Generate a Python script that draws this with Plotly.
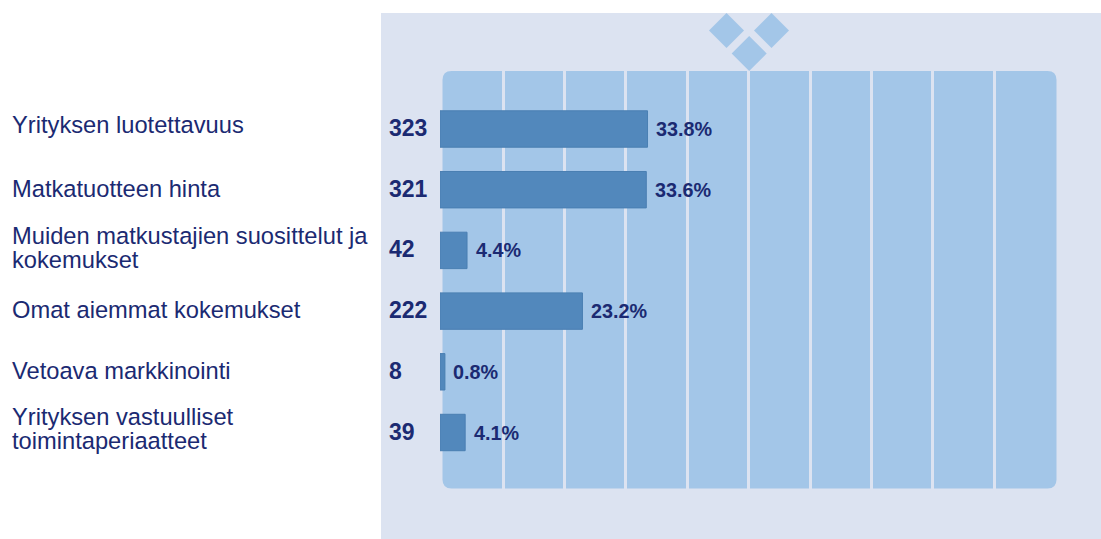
import plotly.graph_objects as go

W, H = 1101, 539

categories = [
    ["Yrityksen luotettavuus"],
    ["Matkatuotteen hinta"],
    ["Muiden matkustajien suosittelut ja", "kokemukset"],
    ["Omat aiemmat kokemukset"],
    ["Vetoava markkinointi"],
    ["Yrityksen vastuulliset", "toimintaperiaatteet"],
]
counts = [323, 321, 42, 222, 8, 39]
percents = [33.8, 33.6, 4.4, 23.2, 0.8, 4.1]
grid_ticks = [10, 20, 30, 40, 50, 60, 70, 80, 90]

NAVY = "#1B2A72"
PANEL = "#DCE3F1"
PLOT = "#A3C6E8"
BAR = "#5288BC"
BAR_EDGE = "#4A7FB2"

# Vertical nudges (px) for the label column, and the grid's small offset from the bar origin
LABEL_SHIFTS = [4, 1, 2, 1, 1, 4]
GRID_OFFSET = 0.26
LINE_PITCH = 24


def px(v):
    return v / W


def py(v):
    return 1 - v / H


def rounded_rect(x0, y0, x1, y1, r):
    return (
        f"M {px(x0 + r)} {py(y0)} L {px(x1 - r)} {py(y0)} "
        f"Q {px(x1)} {py(y0)} {px(x1)} {py(y0 + r)} "
        f"L {px(x1)} {py(y1 - r)} Q {px(x1)} {py(y1)} {px(x1 - r)} {py(y1)} "
        f"L {px(x0 + r)} {py(y1)} Q {px(x0)} {py(y1)} {px(x0)} {py(y1 - r)} "
        f"L {px(x0)} {py(y0 + r)} Q {px(x0)} {py(y0)} {px(x0 + r)} {py(y0)} Z"
    )


def diamond(cx, cy, r):
    return (
        f"M {px(cx)} {py(cy - r)} L {px(cx + r)} {py(cy)} "
        f"L {px(cx)} {py(cy + r)} L {px(cx - r)} {py(cy)} Z"
    )


shapes = [
    dict(type="rect", xref="paper", yref="paper", x0=px(381), x1=1, y0=0, y1=py(13),
         fillcolor=PANEL, line_width=0, layer="below"),
    dict(type="path", xref="paper", yref="paper", path=rounded_rect(442.5, 71, 1056.5, 488.5, 9),
         fillcolor=PLOT, line_width=0, layer="below"),
]
for cx, cy in [(726.5, 30.5), (771.5, 30.5), (749.2, 53.5)]:
    shapes.append(dict(type="path", xref="paper", yref="paper", path=diamond(cx, cy, 17.5),
                       fillcolor=PLOT, line_width=0, layer="below"))

fig = go.Figure(
    go.Bar(
        y=list(range(len(categories))),
        x=percents,
        orientation="h",
        width=0.6,
        marker=dict(color=BAR, line=dict(color=BAR_EDGE, width=1)),
        hoverinfo="skip",
    )
)

annotations = []
for i, (lines, count, pct) in enumerate(zip(categories, counts, percents)):
    # Each line is placed on its own so the wrapped rows keep a tight pitch
    for j, line in enumerate(lines):
        annotations.append(dict(
            x=px(10), xref="paper", y=i, yref="y", text=line, showarrow=False,
            xanchor="left", align="left",
            yshift=LABEL_SHIFTS[i] + (len(lines) - 1) * LINE_PITCH / 2 - j * LINE_PITCH,
            font=dict(family="Liberation Sans", size=23.7, color=NAVY),
        ))
    annotations.append(dict(
        x=px(387), xref="paper", y=i, yref="y", text=str(count), showarrow=False,
        xanchor="left", align="left", yshift=1,
        font=dict(family="Liberation Sans", size=23, color=NAVY, weight="bold"),
    ))
    annotations.append(dict(
        x=pct, xref="x", y=i, yref="y", text=f"{pct:.1f}%", showarrow=False,
        xanchor="left", align="left", xshift=6.5,
        font=dict(family="Liberation Sans", size=19.8, color=NAVY, weight="bold"),
    ))

fig.update_layout(
    width=W,
    height=H,
    margin=dict(l=0, r=0, t=0, b=0),
    paper_bgcolor="white",
    plot_bgcolor="rgba(0,0,0,0)",
    showlegend=False,
    shapes=shapes,
    annotations=annotations,
    xaxis=dict(
        domain=[px(440), px(1054)],
        range=[0, 100],
        tickvals=[t + GRID_OFFSET for t in grid_ticks],
        showticklabels=False,
        ticks="",
        showgrid=True,
        gridcolor=PANEL,
        gridwidth=3,
        zeroline=False,
        showline=False,
    ),
    yaxis=dict(
        domain=[py(488.5), py(71)],
        range=[(488.5 - 129) / 60.7, (71 - 129) / 60.7],
        showticklabels=False,
        ticks="",
        showgrid=False,
        zeroline=False,
        showline=False,
    ),
)

fig.write_html("out.html", config={"displayModeBar": False})
